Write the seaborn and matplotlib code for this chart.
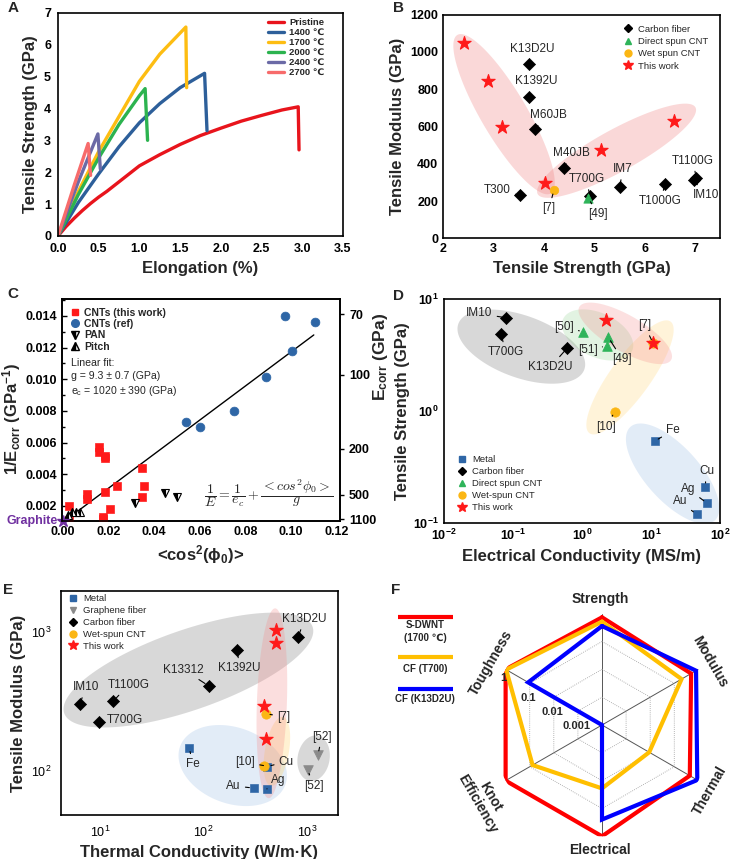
import numpy as np
import matplotlib
matplotlib.use("Agg")
import matplotlib.pyplot as plt
import seaborn as sns
from matplotlib.lines import Line2D
from matplotlib.ticker import MultipleLocator, LogLocator, NullFormatter

# ======================= DATA =======================
# --- A: stress-strain curves ---
pristine_x = [0, 0.1, 0.2, 0.3, 0.4, 0.5, 0.6, 0.8, 1.0, 1.25, 1.5, 1.75, 2.0, 2.25, 2.5, 2.75, 2.95, 2.96]
pristine_y = [0, 0.3, 0.56, 0.8, 1.02, 1.22, 1.4, 1.8, 2.2, 2.55, 2.87, 3.15, 3.38, 3.6, 3.78, 3.95, 4.05, 2.7]
t1400_x = [0, 0.25, 0.5, 0.75, 1.0, 1.25, 1.5, 1.8, 1.83]
t1400_y = [0, 1.05, 1.95, 2.8, 3.55, 4.15, 4.65, 5.1, 3.3]
t1700_x = [0, 0.25, 0.5, 0.75, 1.0, 1.25, 1.57, 1.58]
t1700_y = [0, 1.4, 2.65, 3.75, 4.85, 5.7, 6.55, 4.65]
t2000_x = [0, 0.25, 0.5, 0.75, 1.0, 1.07, 1.1]
t2000_y = [0, 1.3, 2.45, 3.5, 4.4, 4.62, 3.0]
t2400_x = [0, 0.25, 0.49, 0.52]
t2400_y = [0, 1.7, 3.2, 2.1]
t2700_x = [0, 0.2, 0.37, 0.40]
t2700_y = [0, 1.6, 2.9, 1.9]
curve_labels = ["Pristine", "1400 ℃", "1700 ℃", "2000 ℃", "2400 ℃", "2700 ℃"]

# --- B: modulus vs strength ---
cfB_names = ["T300", "K13D2U", "K1392U", "M60JB", "M40JB", "T700G", "IM7", "T1000G", "IM10", "T1100G"]
cfB_strength = [3.53, 3.70, 3.70, 3.82, 4.40, 4.91, 5.50, 6.40, 6.97, 7.02]
cfB_modulus = [230, 935, 760, 588, 377, 228, 273, 293, 311, 322]
dsB_names = ["[49]"]
dsB_strength = [4.88]
dsB_modulus = [215]
wsB_names = ["[7]"]
wsB_strength = [4.20]
wsB_modulus = [259]
thisB_strength = [2.42, 2.89, 3.17, 4.03, 5.14, 6.58]
thisB_modulus = [1046, 843, 599, 299, 472, 628]

# --- C: 1/E vs <cos^2> ---
cntC_x = [0.0025, 0.0025, 0.0105, 0.0105, 0.0156, 0.0156, 0.0185, 0.0185, 0.0185, 0.0175, 0.0175, 0.0204, 0.0236, 0.0348, 0.0348, 0.0357]
cntC_y = [0.0020, 0.00112, 0.00276, 0.00242, 0.00574, 0.00543, 0.00517, 0.00501, 0.00288, 0.00133, 0.0012, 0.00179, 0.00326, 0.00438, 0.00259, 0.00326]
refC_x = [0.0538, 0.060, 0.075, 0.0891, 0.1003, 0.0973, 0.1104]
refC_y = [0.00732, 0.0070, 0.0080, 0.01016, 0.01178, 0.01399, 0.01359]
panC_x = [0.0316, 0.0447, 0.0498]
panC_y = [0.00217, 0.0028, 0.00255]
pitchC_x = [0.0020, 0.0038, 0.0055, 0.0072]
pitchC_y = [0.00140, 0.00164, 0.00164, 0.00164]
graphiteC = (0.0, 0.00105)
fitC_x = [0.005, 0.110]
fitC_y = [0.00152, 0.0128]
rightC_pos = [0.0141, 0.0103, 0.0056, 0.0027, 0.00116]
rightC_lab = ["70", "100", "200", "500", "1100"]

# --- D: strength vs electrical conductivity ---
metalD_names = ["Fe", "Cu", "Ag", "Au"]
metalD_x = [11.3, 61, 65, 45.8]
metalD_y = [0.54, 0.21, 0.151, 0.12]
cfD_names = ["IM10", "T700G", "K13D2U"]
cfD_x = [0.080, 0.068, 0.615]
cfD_y = [6.8, 4.87, 3.66]
dsD_names = ["[50]", "[51]", "[49]"]
dsD_x = [1.05, 2.28, 2.41]
dsD_y = [5.1, 3.81, 4.56]
wsD_names = ["[7]", "[10]"]
wsD_x = [10.8, 3.01]
wsD_y = [4.03, 0.99]
thisD_x = [2.23, 10.8]
thisD_y = [6.5, 4.03]

# --- E: modulus vs thermal conductivity ---
metalE_names = ["Fe", "Cu", "Au", "Ag"]
metalE_x = [73, 411, 305, 411]
metalE_y = [147, 107, 75, 74]
grE_names = ["[52]", "[52]"]
grE_x = [1279, 1016]
grE_y = [130, 102]
cfE_names = ["IM10", "T1100G", "T700G", "K13312", "K1392U", "K13D2U"]
cfE_x = [6.4, 13.5, 9.7, 112, 213, 820]
cfE_y = [303, 318, 226, 409, 740, 912]
wsE_names = ["[7]", "[10]"]
wsE_x = [402, 381]
wsE_y = [257, 109]
thisE_x = [506, 498, 381, 405]
thisE_y = [1028, 826, 293, 170]

# --- F: radar ---
radar_axes = ["Strength", "Modulus", "Thermal", "Electrical", "Knot\nEfficiency", "Toughness"]
radar_sdwnt = [0.74, 0.50, 0.44, 1.0, 1.0, 1.0]
radar_t700 = [0.52, 0.20, 0.0091, 0.019, 0.076, 0.95]
radar_k13 = [0.36, 0.80, 0.90, 0.25, 0.0001, 0.116]
radar_rings = [0.001, 0.01, 0.1, 1]

# ======================= STYLE =======================
sns.set_style("white")
plt.rcParams["font.family"] = ["Liberation Sans", "DejaVu Sans"]
plt.rcParams["mathtext.fontset"] = "custom"
plt.rcParams["mathtext.rm"] = "Liberation Sans"
plt.rcParams["mathtext.it"] = "Liberation Sans:italic"
plt.rcParams["mathtext.bf"] = "Liberation Sans:bold"
plt.rcParams["axes.linewidth"] = 1.2
plt.rcParams["axes.edgecolor"] = "black"
plt.rcParams["xtick.color"] = "black"
plt.rcParams["ytick.color"] = "black"

RED = "#ff1a1a"
BLACK = "black"
GREEN = "#2fb45a"
ORANGE = "#fbb614"
MBLUE = "#2e66a6"
GREY = "#8a8a8a"
PX = 0.72  # points per pixel

fig = plt.figure(figsize=(7.32, 8.59), dpi=100)


def rect(l, t, r, b):
    return [l / 732, (859 - b) / 859, (r - l) / 732, (b - t) / 859]


def ellipse(ax, cx, cy, a, b, ang, color, alpha):
    t = np.linspace(0, 2 * np.pi, 181)
    c = ax.transData.transform((cx, cy))
    th = np.deg2rad(ang)
    ex, ey = a * np.cos(t), b * np.sin(t)
    X = c[0] + ex * np.cos(th) - ey * np.sin(th)
    Y = c[1] + ex * np.sin(th) + ey * np.cos(th)
    d = ax.transData.inverted().transform(np.column_stack([X, Y]))
    ax.fill(d[:, 0], d[:, 1], color=color, alpha=alpha, lw=0, zorder=0.5)


def annot(ax, txt, x, y, dx, dy, line=True, fs=8.5):
    ax.annotate(txt, (x, y), xytext=(dx * PX, dy * PX), textcoords="offset points",
                ha="center", va="center", fontsize=fs, zorder=6,
                arrowprops=dict(arrowstyle="-", color="black", lw=0.8, shrinkA=1, shrinkB=3) if line else None)


def bold_ticks(ax, xt, xl, yt, yl, fs=9, weight="bold"):
    ax.set_xticks(xt, xl, fontsize=fs, fontweight=weight)
    ax.set_yticks(yt, yl, fontsize=fs, fontweight=weight)


def h(marker, color, label, ms=5, ec=None, **kw):
    return Line2D([], [], ls="none", marker=marker, ms=ms, mfc=color, mec=ec or color, label=label, **kw)


# ======================= PANEL A =======================
axA = fig.add_axes(rect(58, 12.7, 343, 236))
curves = [(pristine_x, pristine_y, "#e8141c"), (t1400_x, t1400_y, "#2d5f9a"),
          (t1700_x, t1700_y, "#fdbd12"), (t2000_x, t2000_y, "#2cb34f"),
          (t2400_x, t2400_y, "#6b6aa6"), (t2700_x, t2700_y, "#f76b6b")]
for (cx, cy, col), lab in zip(curves, curve_labels):
    sns.lineplot(x=cx, y=cy, ax=axA, color=col, lw=2.4, sort=False, label=lab, estimator=None)
axA.set_xlim(0, 3.5)
axA.set_ylim(0, 7)
xt = [0, 0.5, 1.0, 1.5, 2.0, 2.5, 3.0, 3.5]
bold_ticks(axA, xt, [f"{v:.1f}" for v in xt], range(8), [str(v) for v in range(8)])
axA.xaxis.set_minor_locator(MultipleLocator(0.25))
axA.yaxis.set_minor_locator(MultipleLocator(0.5))
axA.tick_params(which="both", direction="in", width=1)
axA.tick_params(which="major", length=3.5)
axA.tick_params(which="minor", length=2)
axA.tick_params(axis="x", pad=5)
axA.tick_params(axis="y", pad=5)
axA.set_xlabel("Elongation (%)", fontsize=12, fontweight="bold")
axA.set_ylabel("Tensile Strength (GPa)", fontsize=12, fontweight="bold")
axA.legend(loc="upper right", bbox_to_anchor=(0.935, 0.975), frameon=False,
           prop=dict(size=6.8, weight="bold"), handlelength=1.6, handletextpad=0.6,
           labelspacing=0.1, borderaxespad=0, borderpad=0)

# ======================= PANEL B =======================
axB = fig.add_axes(rect(443, 14.7, 720.5, 238.3))
sns.scatterplot(x=cfB_strength, y=cfB_modulus, ax=axB, marker="D", s=38, color=BLACK, edgecolor=BLACK, zorder=3, legend=False)
sns.scatterplot(x=dsB_strength, y=dsB_modulus, ax=axB, marker="^", s=45, color=GREEN, edgecolor=GREEN, zorder=4, legend=False)
sns.scatterplot(x=wsB_strength, y=wsB_modulus, ax=axB, marker="o", s=38, color=ORANGE, edgecolor=ORANGE, zorder=4, legend=False)
sns.scatterplot(x=thisB_strength, y=thisB_modulus, ax=axB, marker="*", s=100, color=RED, edgecolor=RED, zorder=4, legend=False)
axB.set_xlim(2, 7.5)
axB.set_ylim(0, 1200)
bold_ticks(axB, [2, 3, 4, 5, 6, 7], ["2", "3", "4", "5", "6", "7"],
           range(0, 1201, 200), [str(v) for v in range(0, 1201, 200)], fs=9)
axB.xaxis.set_minor_locator(MultipleLocator(0.5))
axB.yaxis.set_minor_locator(MultipleLocator(100))
axB.tick_params(which="both", direction="in", width=1)
axB.tick_params(which="major", length=3.5)
axB.tick_params(which="minor", length=2)
axB.set_xlabel("Tensile Strength (GPa)", fontsize=12, fontweight="bold")
axB.set_ylabel("Tensile Modulus (GPa)", fontsize=12, fontweight="bold")
ellipse(axB, 3.21, 666, 92, 23, -59.5, "#f08080", 0.3)
ellipse(axB, 5.44, 470, 90, 21, 28.8, "#f08080", 0.3)
B_offsets = {"T300": (-22.7, 5.7, True), "K13D2U": (3, 15, False), "K1392U": (7.3, 16, False),
             "M60JB": (13.7, 13.3, True), "M40JB": (7.3, 14.7, True), "T700G": (-3.3, 16.7, True),
             "IM7": (3.3, 18.3, True), "T1000G": (-4.3, -17.3, True), "IM10": (12, -14.7, True),
             "T1100G": (-3.3, 17.7, True), "[7]": (-5, -18.3, True), "[49]": (9.7, -16, True)}
for names, xs, ys in [(cfB_names, cfB_strength, cfB_modulus), (dsB_names, dsB_strength, dsB_modulus),
                      (wsB_names, wsB_strength, wsB_modulus)]:
    for n, x, y in zip(names, xs, ys):
        dx, dy, ln = B_offsets[n]
        annot(axB, n, x, y, dx, dy, ln)
axB.legend(handles=[h("D", BLACK, "Carbon fiber", 4.5), h("^", GREEN, "Direct spun CNT", 5),
                    h("o", ORANGE, "Wet spun CNT", 5), h("*", RED, "This work", 7)],
           loc="upper left", bbox_to_anchor=(0.645, 0.955), frameon=False, fontsize=6.8,
           borderaxespad=0, borderpad=0, handletextpad=0.5, labelspacing=0.35, handlelength=1.2)

# ======================= PANEL C =======================
axC = fig.add_axes(rect(62, 299, 340, 521))
sns.scatterplot(x=cntC_x, y=cntC_y, ax=axC, marker="s", s=34, color=RED, edgecolor=RED, zorder=3, legend=False)
sns.scatterplot(x=refC_x, y=refC_y, ax=axC, marker="o", s=40, color=MBLUE, edgecolor=MBLUE, zorder=3, legend=False)
axC.plot(panC_x, panC_y, ls="none", marker="v", ms=6, mfc="black", mfcalt="white", mec="black",
         fillstyle="left", mew=0.8, zorder=3)
axC.plot(pitchC_x, pitchC_y, ls="none", marker="^", ms=5.5, mfc="black", mfcalt="white", mec="black",
         fillstyle="left", mew=0.8, zorder=3)
sns.lineplot(x=fitC_x, y=fitC_y, ax=axC, color="black", lw=1.0, zorder=2)
axC.plot([graphiteC[0]], [graphiteC[1]], marker="*", ms=9, color="#7030a0", clip_on=False, zorder=6)
axC.annotate("Graphite", graphiteC, xytext=(-5 * PX, 0), textcoords="offset points", ha="right", va="center",
             fontsize=9, fontweight="bold", color="#7030a0", annotation_clip=False)
axC.set_xlim(-0.0005, 0.1215)
axC.set_ylim(0.00105, 0.01507)
xt = [0, 0.02, 0.04, 0.06, 0.08, 0.10, 0.12]
yt = [0.002, 0.004, 0.006, 0.008, 0.010, 0.012, 0.014]
bold_ticks(axC, xt, [f"{v:.2f}" for v in xt], yt, [f"{v:.3f}" for v in yt], fs=9)
axC.xaxis.set_minor_locator(MultipleLocator(0.01))
axC.yaxis.set_minor_locator(MultipleLocator(0.001))
axC.tick_params(which="both", direction="in", width=1, right=False)
axC.tick_params(which="major", length=3.5)
axC.tick_params(which="minor", length=2)
axC.set_xlabel("<cos$^{\\mathbf{2}}$(ϕ$_{\\mathbf{0}}$)>", fontsize=12, fontweight="bold")
axC.set_ylabel("1/E$_{\\mathbf{corr}}$ (GPa$^{\\mathbf{-1}}$)", fontsize=12, fontweight="bold")
axC.yaxis.set_label_coords(-0.14, 0.46)
axC2 = axC.twinx()
axC2.set_ylim(axC.get_ylim())
axC2.set_yticks(rightC_pos, rightC_lab, fontsize=9, fontweight="bold")
axC2.tick_params(direction="out", length=3, width=1)
axC2.set_ylabel("E$_{\\mathbf{corr}}$ (GPa)", fontsize=12.5, fontweight="bold")
axC2.yaxis.set_label_coords(1.11, 0.74)
axC.legend(handles=[h("s", RED, "CNTs (this work)", 5), h("o", MBLUE, "CNTs (ref)", 5.5),
                    h("v", "black", "PAN", 5.5, ec="black", fillstyle="left", mfcalt="white"),
                    h("^", "black", "Pitch", 5.5, ec="black", fillstyle="left", mfcalt="white")],
           loc="upper left", bbox_to_anchor=(0.028, 0.96), frameon=False,
           prop=dict(size=7.5, weight="bold"), borderaxespad=0, borderpad=0,
           handletextpad=0.4, labelspacing=0.12, handlelength=1.0)
axC.text(0.031, 0.735, "Linear fit:\ng = 9.3 ± 0.7 (GPa)\ne$_\\mathregular{c}$ = 1020 ± 390 (GPa)",
         transform=axC.transAxes, ha="left", va="top", fontsize=7.6, linespacing=1.35)
axC.text(0.745, 0.125, r"$\dfrac{1}{E}=\dfrac{1}{e_c}+\dfrac{<cos^2\phi_0>}{g}$", transform=axC.transAxes,
         ha="center", va="center", fontsize=10, math_fontfamily="cm")

# ======================= PANEL D =======================
axD = fig.add_axes(rect(443.7, 299, 720, 523.3))
sns.scatterplot(x=metalD_x, y=metalD_y, ax=axD, marker="s", s=30, color=MBLUE, edgecolor=MBLUE, zorder=3, legend=False)
sns.scatterplot(x=cfD_x, y=cfD_y, ax=axD, marker="D", s=38, color=BLACK, edgecolor=BLACK, zorder=3, legend=False)
sns.scatterplot(x=dsD_x, y=dsD_y, ax=axD, marker="^", s=48, color=GREEN, edgecolor=GREEN, zorder=3, legend=False)
sns.scatterplot(x=wsD_x, y=wsD_y, ax=axD, marker="o", s=45, color=ORANGE, edgecolor=ORANGE, zorder=3, legend=False)
sns.scatterplot(x=thisD_x, y=thisD_y, ax=axD, marker="*", s=100, color=RED, edgecolor=RED, zorder=4, legend=False)
axD.set_xscale("log")
axD.set_yscale("log")
axD.set_xlim(1e-2, 1e2)
axD.set_ylim(1e-1, 1e1)
axD.set_xticks([1e-2, 1e-1, 1e0, 1e1, 1e2],
               [r"$\mathbf{10^{-2}}$", r"$\mathbf{10^{-1}}$", r"$\mathbf{10^{0}}$", r"$\mathbf{10^{1}}$", r"$\mathbf{10^{2}}$"],
               fontsize=9)
axD.set_yticks([1e-1, 1e0, 1e1], [r"$\mathbf{10^{-1}}$", r"$\mathbf{10^{0}}$", r"$\mathbf{10^{1}}$"], fontsize=9)
axD.xaxis.set_minor_locator(LogLocator(subs=np.arange(2, 10)))
axD.yaxis.set_minor_locator(LogLocator(subs=np.arange(2, 10)))
axD.xaxis.set_minor_formatter(NullFormatter())
axD.yaxis.set_minor_formatter(NullFormatter())
axD.tick_params(which="both", direction="in", width=1)
axD.tick_params(which="major", length=3.5)
axD.tick_params(which="minor", length=2)
axD.set_xlabel("Electrical Conductivity (MS/m)", fontsize=12, fontweight="bold")
axD.set_ylabel("Tensile Strength (GPa)", fontsize=12, fontweight="bold")
axD.yaxis.set_label_coords(-0.123, 0.5)
ellipse(axD, 0.133, 3.76, 67, 31, -20, "#9a9a9a", 0.38)
ellipse(axD, 1.69, 4.78, 38, 22, -25, "#8fd18f", 0.25)
ellipse(axD, 20.6, 0.277, 63, 27, -48, "#8db4e2", 0.25)
ellipse(axD, 4.98, 2.0, 69, 20, 54, "#ffd36b", 0.25)
ellipse(axD, 4.25, 4.94, 53, 18, -30, "#f48a8a", 0.26)
D_offsets = {"IM10": (-26.7, 4.3), "T700G": (4.3, -18.3), "K13D2U": (-16.7, -19), "[50]": (-19.3, 4.7),
             "[51]": (-18.7, -4), "[49]": (14, -22), "[7]": (-9, 18), "[10]": (-9, -15),
             "Fe": (18.3, 10.7), "Cu": (1.3, 16), "Ag": (-19, 14.3), "Au": (-16.7, 13.3)}
for names, xs, ys in [(cfD_names, cfD_x, cfD_y), (dsD_names, dsD_x, dsD_y), (wsD_names, wsD_x, wsD_y),
                      (metalD_names, metalD_x, metalD_y)]:
    for n, x, y in zip(names, xs, ys):
        dx, dy = D_offsets[n]
        annot(axD, n, x, y, dx, dy)
axD.legend(handles=[h("s", MBLUE, "Metal", 4), h("D", BLACK, "Carbon fiber", 4.5), h("^", GREEN, "Direct spun CNT", 5),
                    h("o", ORANGE, "Wet-spun CNT", 5), h("*", RED, "This work", 7)],
           loc="upper left", bbox_to_anchor=(0.045, 0.305), frameon=False, fontsize=6.8,
           borderaxespad=0, borderpad=0, handletextpad=0.5, labelspacing=0.32, handlelength=1.2)

# ======================= PANEL E =======================
axE = fig.add_axes(rect(61, 591, 338, 815))
sns.scatterplot(x=metalE_x, y=metalE_y, ax=axE, marker="s", s=30, color=MBLUE, edgecolor=MBLUE, zorder=3, legend=False)
sns.scatterplot(x=grE_x, y=grE_y, ax=axE, marker="v", s=48, color=GREY, edgecolor=GREY, zorder=3, legend=False)
sns.scatterplot(x=cfE_x, y=cfE_y, ax=axE, marker="D", s=38, color=BLACK, edgecolor=BLACK, zorder=3, legend=False)
sns.scatterplot(x=wsE_x, y=wsE_y, ax=axE, marker="o", s=45, color=ORANGE, edgecolor=ORANGE, zorder=4, legend=False)
sns.scatterplot(x=thisE_x, y=thisE_y, ax=axE, marker="*", s=100, color=RED, edgecolor=RED, zorder=4, legend=False)
axE.set_xscale("log")
axE.set_yscale("log")
axE.set_xlim(4.2, 2000)
axE.set_ylim(48, 1970)
axE.set_xticks([1e1, 1e2, 1e3], [r"$\mathdefault{10^{1}}$", r"$\mathdefault{10^{2}}$", r"$\mathdefault{10^{3}}$"], fontsize=9)
axE.set_yticks([1e2, 1e3], [r"$\mathdefault{10^{2}}$", r"$\mathdefault{10^{3}}$"], fontsize=9)
axE.xaxis.set_minor_locator(LogLocator(subs=np.arange(2, 10)))
axE.yaxis.set_minor_locator(LogLocator(subs=np.arange(2, 10)))
axE.xaxis.set_minor_formatter(NullFormatter())
axE.yaxis.set_minor_formatter(NullFormatter())
axE.tick_params(which="both", direction="out", width=1, top=False, right=False)
axE.tick_params(which="major", length=3.5)
axE.tick_params(which="minor", length=2)
axE.set_xlabel("Thermal Conductivity (W/m·K)", fontsize=12, fontweight="bold")
axE.set_ylabel("Tensile Modulus (GPa)", fontsize=12, fontweight="bold")
axE.yaxis.set_label_coords(-0.125, 0.5)
ellipse(axE, 71.6, 531, 131.5, 40, 19.2, "#9a9a9a", 0.38)
ellipse(axE, 192, 109, 56, 38, -20, "#8db4e2", 0.25)
ellipse(axE, 1162, 123, 23, 16, 80, "#9a9a9a", 0.38)
ellipse(axE, 513, 138, 35, 12, 80, "#ffd36b", 0.3)
ellipse(axE, 459, 306, 95, 15, 88, "#f48a8a", 0.28)
E_offsets = {"IM10": (6, 16.7), "T1100G": (15, 16), "T700G": (26.3, 1.7), "K13312": (-25, 16.3),
             "K1392U": (2, -18.3), "K13D2U": (6.7, 18.3), "[7]": (17.7, -2.7), "Fe": (3.3, -16.7),
             "[10]": (-18.3, 3.3), "Cu": (19.3, 5), "Au": (-20, 2.3), "Ag": (11.7, 8.7)}
E_gr_offsets = [(4, 18.3), (6, -16)]
for names, xs, ys in [(cfE_names, cfE_x, cfE_y), (wsE_names, wsE_x, wsE_y), (metalE_names, metalE_x, metalE_y)]:
    for n, x, y in zip(names, xs, ys):
        dx, dy = E_offsets[n]
        annot(axE, n, x, y, dx, dy)
for n, x, y, (dx, dy) in zip(grE_names, grE_x, grE_y, E_gr_offsets):
    annot(axE, n, x, y, dx, dy)
axE.legend(handles=[h("s", MBLUE, "Metal", 4), h("v", GREY, "Graphene fiber", 5), h("D", BLACK, "Carbon fiber", 4.5),
                    h("o", ORANGE, "Wet-spun CNT", 5), h("*", RED, "This work", 7)],
           loc="upper left", bbox_to_anchor=(0.022, 0.985), frameon=False, fontsize=6.8,
           borderaxespad=0, borderpad=0, handletextpad=0.5, labelspacing=0.3, handlelength=1.2)

# ======================= PANEL F =======================
axF = fig.add_axes(rect(490.7, 613.7, 713.3, 836.3), projection="polar")
theta = np.deg2rad([90, 30, -30, -90, -150, 150])
theta_c = np.append(theta, theta[0])
axF.set_rscale("log")
axF.set_rlim(1e-4, 1)
for th in theta:
    axF.plot([th, th], [1e-4, 1], color="#555555", lw=0.7, zorder=1)
for lev in radar_rings[:-1]:
    axF.plot(theta_c, [lev] * 7, color="#9a9a9a", lw=0.6, ls=(0, (1, 1.5)), zorder=1)
for vals, col in [(radar_sdwnt, "#ff0000"), (radar_t700, "#ffbf00"), (radar_k13, "#0000ff")]:
    axF.plot(theta_c, list(vals) + [vals[0]], color=col, lw=3, zorder=3, solid_joinstyle="miter")
axF.set_rlim(1e-4, 1)
axF.set_xticks([])
axF.set_yticks([])
axF.grid(False)
axF.spines["polar"].set_visible(False)
axF.patch.set_alpha(0)
ring_offsets = [(-1, -15), (-1, -14.5), (-1, -14.5), (-2, -8.5)]
for lev, (dx, dy) in zip(radar_rings, ring_offsets):
    lab = "1" if lev == 1 else str(lev)
    axF.annotate(lab, (np.deg2rad(150), lev), xytext=(dx * PX, dy * PX), textcoords="offset points",
                 ha="center", va="center", fontsize=8, fontweight="bold", zorder=5)
label_pos = [(0.492, 1.068, 0), (0.983, 0.785, -60), (0.983, 0.207, 60), (0.492, -0.06, 0),
             (-0.03, 0.162, -60), (0.0, 0.778, 60)]
for name, (lx, ly, rot) in zip(radar_axes, label_pos):
    axF.text(lx, ly, name, transform=axF.transAxes, ha="center", va="center", rotation=rot,
             fontsize=10, fontweight="bold", linespacing=1.0)

# ======================= OVERLAY (panel letters, F legend) =======================
ov = fig.add_axes([0, 0, 1, 1], zorder=10)
ov.set_xlim(0, 732)
ov.set_ylim(859, 0)
ov.axis("off")
for letter, (lx, ly) in zip("ABCDEF", [(13, 7.5), (398, 7.5), (13, 294), (398, 296.5), (8.5, 590.5), (396, 590.5)]):
    ov.text(lx, ly, letter, fontsize=11, fontweight="bold", ha="center", va="center")
for col, ly, txt, ty in [("#ff0000", 616.7, "S-DWNT\n(1700 ℃)", 631.7), ("#ffbf00", 657.3, "CF (T700)", 669),
                         ("#0000ff", 689.3, "CF (K13D2U)", 699.3)]:
    ov.plot([397.7, 452.7], [ly, ly], color=col, lw=3, solid_capstyle="butt")
    ov.text(425, ty, txt, ha="center", va="center", fontsize=7, fontweight="bold", linespacing=1.4)

fig.savefig("out.png", dpi=100)
